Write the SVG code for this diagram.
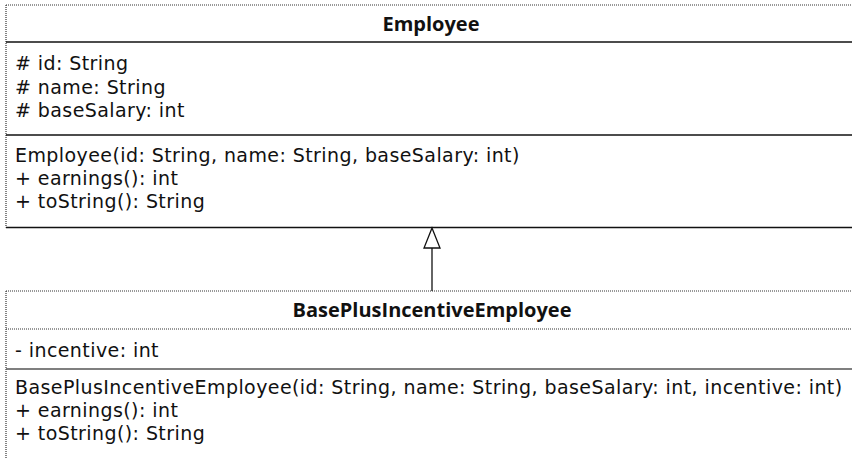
<svg xmlns="http://www.w3.org/2000/svg" width="852" height="459" viewBox="0 0 852 459">
<style>
text{font-family:"DejaVu Sans","Open Sans",sans-serif;font-size:19px;fill:#111;letter-spacing:0.42px}
.title{font-family:"Open Sans","Noto Sans",sans-serif;font-size:20px;font-weight:bold;text-anchor:middle;letter-spacing:0}
.dot{stroke:#333;stroke-width:1.2;stroke-dasharray:1 1;fill:none}
.solid{stroke:#111;stroke-width:1.5;fill:none}
.gray{stroke:#555;stroke-width:1.5;fill:none}
</style>
<rect width="852" height="459" fill="#fff"/>
<g id="Employee">
<line class="dot" x1="6" y1="5" x2="852" y2="5"/>
<line class="dot" x1="6" y1="5" x2="6" y2="227.5"/>
<line class="solid" x1="6" y1="42" x2="852" y2="42"/>
<line class="solid" x1="6" y1="135" x2="852" y2="135"/>
<line class="solid" x1="6" y1="227.5" x2="852" y2="227.5"/>
<text class="title" x="431" y="31">Employee</text>
<text x="15" y="70"># id: String</text>
<text x="15" y="93.5"># name: String</text>
<text x="15" y="117"># baseSalary: int</text>
<text x="15" y="162">Employee(id: String, name: String, baseSalary: int)</text>
<text x="15" y="185">+ earnings(): int</text>
<text x="15" y="208">+ toString(): String</text>
</g>
<g id="BasePlusIncentiveEmployee">
<line class="dot" x1="6" y1="291" x2="852" y2="291"/>
<line class="dot" x1="6" y1="291" x2="6" y2="459"/>
<line class="dot" x1="6" y1="329" x2="852" y2="329"/>
<line class="gray" x1="6" y1="369" x2="852" y2="369"/>
<text class="title" x="432" y="317">BasePlusIncentiveEmployee</text>
<text x="15" y="357">- incentive: int</text>
<text x="15" y="394">BasePlusIncentiveEmployee(id: String, name: String, baseSalary: int, incentive: int)</text>
<text x="15" y="417">+ earnings(): int</text>
<text x="15" y="440">+ toString(): String</text>
</g>
<g id="connectors">
<line x1="432" y1="248" x2="432" y2="291" stroke="#111" stroke-width="1.3"/>
<polygon points="432,228 424,248 440,248" fill="#fff" stroke="#111" stroke-width="1.3"/>
</g>
</svg>
